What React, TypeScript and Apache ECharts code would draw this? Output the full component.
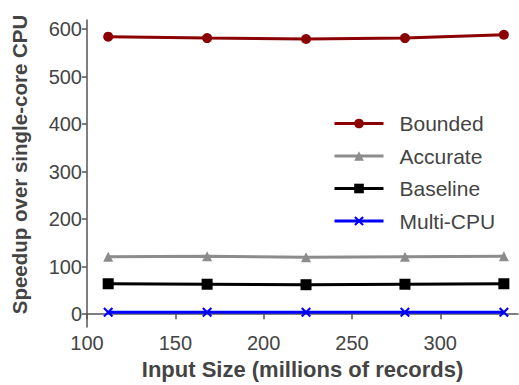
import React, { useEffect, useRef } from "react";
import * as echarts from "echarts";

const inputSizes = [112, 168, 224, 280, 336];
const bounded = [584, 581, 579, 581, 588];
const accurate = [121, 122, 120, 121, 122];
const baseline = [64, 63, 62, 63, 64];
const multiCpu = [4, 4, 4, 4, 4];
const yTicks = [0, 100, 200, 300, 400, 500, 600];
const xTicks = [100, 150, 200, 250, 300];

const FONT = "Liberation Sans, Arial, sans-serif";
const xMarker = "path://M0 1.5L1.5 0L5 3.5L8.5 0L10 1.5L6.5 5L10 8.5L8.5 10L5 6.5L1.5 10L0 8.5L3.5 5Z";

export default function App() {
  const ref = useRef<HTMLDivElement>(null);
  useEffect(() => {
    const chart = echarts.init(ref.current!, null, { renderer: "svg" });
    const pair = (vals: number[]) => inputSizes.map((x, i) => [x, vals[i]]);
    const mk = (name: string, vals: number[], color: string, symbol: string, size: number) => ({
      name,
      type: "line",
      data: pair(vals),
      symbol,
      symbolSize: size,
      showSymbol: true,
      lineStyle: { color, width: 3 },
      itemStyle: { color },
      emphasis: { disabled: true },
    });
    chart.setOption({
      animation: false,
      backgroundColor: "#ffffff",
      grid: { left: 87, right: 1, top: 20, bottom: 55, containLabel: false },
      legend: {
        orient: "vertical",
        left: 333,
        top: 113,
        padding: 0,
        itemWidth: 49,
        itemHeight: 12,
        itemGap: 11.5,
        lineStyle: { width: 3 },
        textStyle: { fontFamily: FONT, fontSize: 21, color: "#444", lineHeight: 20, padding: [0, 0, 0, 11] },
        data: ["Bounded", "Accurate", "Baseline", "Multi-CPU"],
      },
      xAxis: {
        type: "value",
        min: 100,
        max: 344,
        name: "Input Size (millions of records)",
        nameLocation: "middle",
        nameGap: 31,
        nameTextStyle: { fontFamily: FONT, fontSize: 22, fontWeight: "bold", color: "#444" },
        axisLine: { show: true, lineStyle: { color: "#555", width: 1.5 } },
        axisTick: { show: true, length: 5, lineStyle: { color: "#555", width: 1.5 }, customValues: xTicks },
        axisLabel: { fontFamily: FONT, fontSize: 20, color: "#444", margin: 6, customValues: xTicks },
        splitLine: { show: false },
      },
      yAxis: {
        type: "value",
        min: -27,
        max: 619,
        name: "Speedup over single-core CPU",
        nameLocation: "middle",
        nameGap: 57,
        nameTextStyle: { fontFamily: FONT, fontSize: 20.5, fontWeight: "bold", color: "#444", padding: [0, 0, 0, 18] },
        axisLine: { show: true, lineStyle: { color: "#555", width: 1.5 } },
        axisTick: { show: true, length: 5, lineStyle: { color: "#555", width: 1.5 }, customValues: yTicks },
        axisLabel: { fontFamily: FONT, fontSize: 20, color: "#444", margin: 5, customValues: yTicks },
        splitLine: { show: false },
      },
      series: [
        mk("Bounded", bounded, "#8b0000", "circle", 10),
        mk("Accurate", accurate, "#8c8c8c", "triangle", 10),
        mk("Baseline", baseline, "#000000", "rect", 11),
        mk("Multi-CPU", multiCpu, "#0000ff", xMarker, 10),
      ],
    });
    return () => chart.dispose();
  }, []);
  return <div ref={ref} style={{ width: 519, height: 385, position: "absolute", left: 0, top: 0 }} />;
}
